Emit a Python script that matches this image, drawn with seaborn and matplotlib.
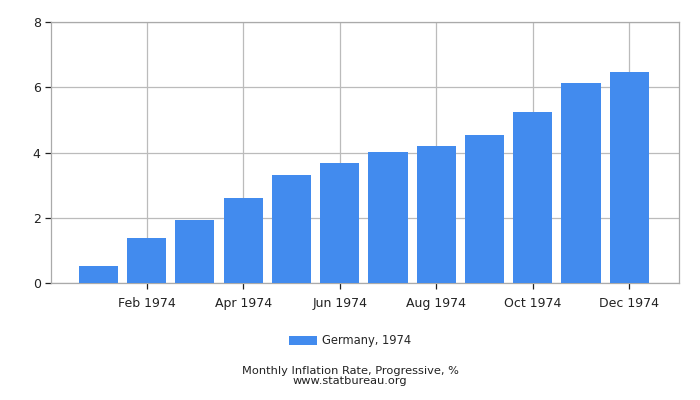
import matplotlib
matplotlib.use('Agg')
import matplotlib.pyplot as plt
import seaborn as sns
import pandas as pd

# monthly progressive inflation, Germany 1974
months = ['Jan 1974', 'Feb 1974', 'Mar 1974', 'Apr 1974', 'May 1974', 'Jun 1974',
          'Jul 1974', 'Aug 1974', 'Sep 1974', 'Oct 1974', 'Nov 1974', 'Dec 1974']
values = [0.53, 1.39, 1.94, 2.61, 3.32, 3.69, 4.02, 4.21, 4.55, 5.25, 6.14, 6.48]
series_label = 'Germany, 1974'

df = pd.DataFrame({'month': months, 'rate': values})

sns.set_style('white')
plt.rcParams['font.family'] = ['DejaVu Sans']

fig = plt.figure(figsize=(7, 4), dpi=100)
ax = fig.add_axes([0.073, 0.2925, 0.897, 0.6525])

bar_color = '#428bee'
sns.barplot(data=df, x='month', y='rate', color=bar_color, saturation=1,
            width=0.81, ax=ax, zorder=3, label=series_label, linewidth=0)
if ax.legend_ is not None:
    ax.legend_.remove()

ax.set_xlim(-0.98, 12.03)
ax.set_ylim(0, 8)
ax.set_yticks([0, 2, 4, 6, 8])
tick_idx = list(range(1, 12, 2))
ax.set_xticks(tick_idx)
ax.set_xticklabels([months[i] for i in tick_idx])
ax.set_xlabel('')
ax.set_ylabel('')

ax.grid(True, color='#bbbbbb', linewidth=0.9, zorder=0)
ax.set_axisbelow(True)
for s in ax.spines.values():
    s.set_color('#aaaaaa')
    s.set_linewidth(0.9)
ax.tick_params(axis='both', labelsize=9, colors='#222222', length=4,
               width=0.9, direction='out', bottom=True, left=True)
ax.tick_params(axis='x', pad=6)

handles, labels = ax.get_legend_handles_labels()
fig.legend(handles[:1], labels[:1], loc='center', bbox_to_anchor=(0.5, 0.148),
           frameon=False, fontsize=8.3, handlelength=2.4, handleheight=0.9,
           handletextpad=0.4)

fig.text(0.5, 0.072, 'Monthly Inflation Rate, Progressive, %', ha='center',
         va='center', fontsize=8.2, color='#222222')
fig.text(0.5, 0.047, 'www.statbureau.org', ha='center', va='center',
         fontsize=8.2, color='#222222')

fig.savefig('out.png', dpi=100)
